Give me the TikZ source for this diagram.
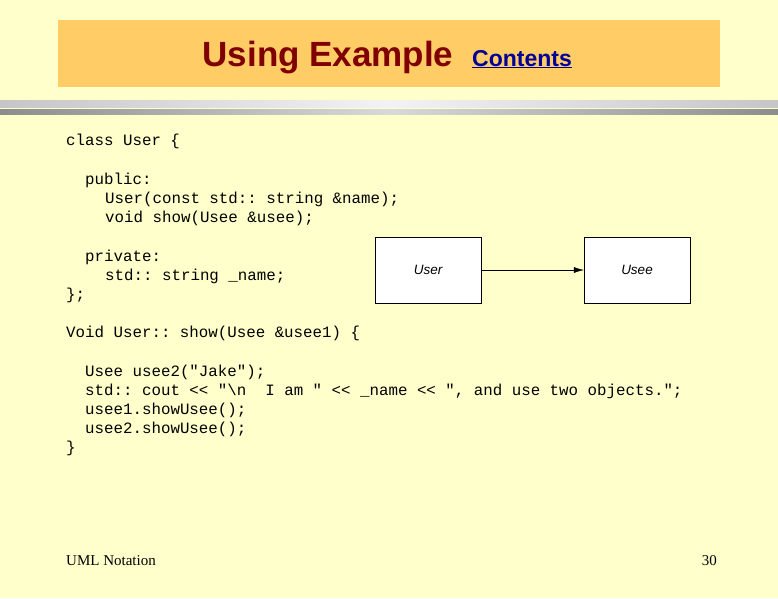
\documentclass[tikz,border=0pt]{standalone}
\usepackage{fontspec}
\setmainfont{Liberation Serif}
\setsansfont{Liberation Sans}
\setmonofont{Liberation Mono}
\usetikzlibrary{arrows.meta}
\usetikzlibrary{positioning}
\definecolor{slidebg}{HTML}{FFFFCC}
\definecolor{titlebg}{HTML}{FFCC66}
\definecolor{titlered}{HTML}{800000}
\begin{document}
\begin{tikzpicture}[x=1pt, y=-1pt,
        code_style/.style={anchor=base west, inner sep=0pt, font=\ttfamily\fontsize{15.8}{15.8}\selectfont},
        box_style/.style={draw=black, fill=white, minimum width=106pt, minimum height=66pt, font=\sffamily\itshape\fontsize{13.5}{13.5}\selectfont},
        edge_style/.style={draw=black, -{Latex[length=10pt, width=6pt]}}]

        \useasboundingbox[fill=slidebg] (0,0) rectangle (778,598);

        \node [fill=titlebg, minimum width=662pt, minimum height=67pt, inner sep=0pt](title_box) at (389,53.5) {};
        \node [anchor=base, inner sep=0pt, text=titlered, font=\sffamily\bfseries\fontsize{35}{35}\selectfont](title) at (328,66) {Using Example};
        \node [anchor=base west, inner sep=0pt, text=blue!60!black, font=\sffamily\bfseries\fontsize{23}{23}\selectfont](contents) at (472,66) {\underline{Contents}};

        \shade [left color=gray!45, right color=gray!45, middle color=gray!10] (0,100) rectangle (778,107);
        \shade [left color=gray!90, right color=gray!90, middle color=gray!30] (0,109) rectangle (778,114);

        \node [code_style](l1) at (66,145) {class User \{};
        \node [code_style](l2) at (85,184) {public:};
        \node [code_style](l3) at (105,203) {User(const std::~string \&name);};
        \node [code_style](l4) at (105,222) {void show(Usee \&usee);};
        \node [code_style](l5) at (85,261) {private:};
        \node [code_style](l6) at (105,280) {std::~string \_name;};
        \node [code_style](l7) at (66,299) {\};};
        \node [code_style](l8) at (66,337) {Void User::~show(Usee \&usee1) \{};
        \node [code_style](l9) at (85,376) {Usee usee2("Jake");};
        \node [code_style](l10) at (85,395) {std::~cout << "\textbackslash n~~I am " << \_name << ", and use two objects.";};
        \node [code_style](l11) at (85,414) {usee1.showUsee();};
        \node [code_style](l12) at (85,433) {usee2.showUsee();};
        \node [code_style](l13) at (66,452) {\}};

        \node [box_style](user) at (428,270) {User};
        \node [box_style](usee) at (637,270) {Usee};

        \draw [edge_style] (user) -- (usee);

        \node [anchor=base west, inner sep=0pt, font=\fontsize{15}{15}\selectfont](footer) at (66,565) {UML Notation};
        \node [anchor=base east, inner sep=0pt, font=\fontsize{15}{15}\selectfont](page) at (717,565) {30};

        \end{tikzpicture}
\end{document}
